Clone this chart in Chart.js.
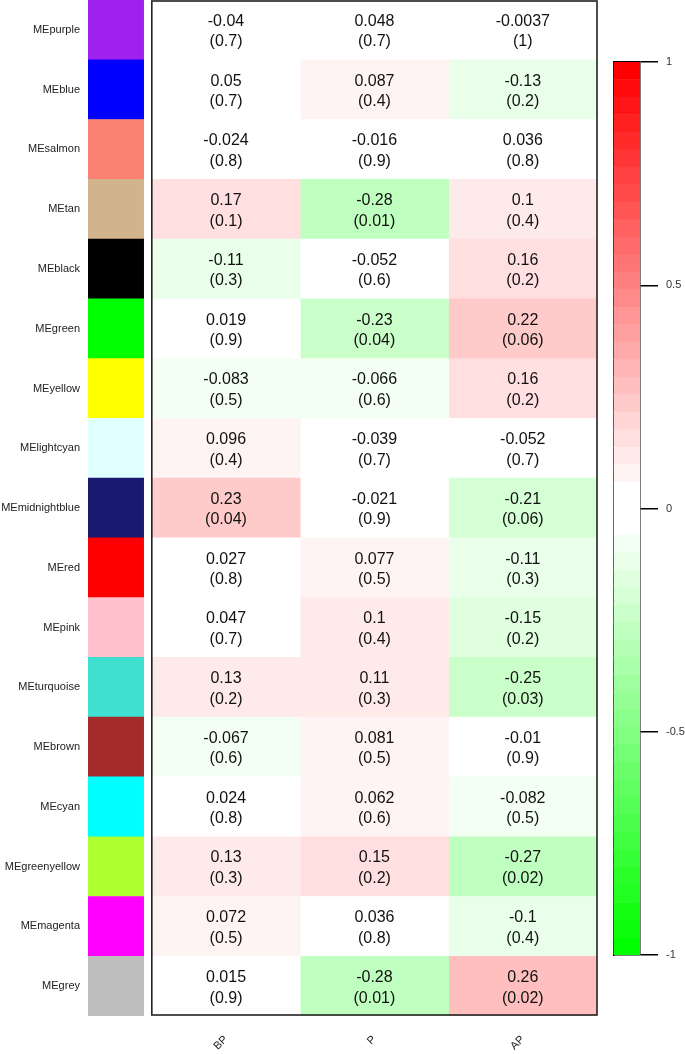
<!DOCTYPE html>
<html>
<head>
<meta charset="utf-8">
<script src="https://cdn.jsdelivr.net/npm/chart.js@4.4.1/dist/chart.umd.min.js"></script>
<style>
    body { margin: 0; background: #fff; }
    #wrap { position: relative; width: 685px; height: 1054px; }
    #heat { position: absolute; left: 0; top: 0; }
    #bar { position: absolute; left: 600px; top: 0; }
</style>
</head>
<body>
<div id="wrap">
    <canvas id="heat" width="685" height="1054"></canvas>
    <canvas id="bar" width="85" height="1054"></canvas>
</div>
<script>
const modules = ['MEpurple', 'MEblue', 'MEsalmon', 'MEtan', 'MEblack', 'MEgreen', 'MEyellow',
    'MElightcyan', 'MEmidnightblue', 'MEred', 'MEpink', 'MEturquoise', 'MEbrown', 'MEcyan',
    'MEgreenyellow', 'MEmagenta', 'MEgrey'];
const moduleColors = ['#A020F0', '#0000FF', '#FA8072', '#D2B48C', '#000000', '#00FF00', '#FFFF00',
    '#E0FFFF', '#191970', '#FF0000', '#FFC0CB', '#40E0D0', '#A52A2A', '#00FFFF',
    '#ADFF2F', '#FF00FF', '#BEBEBE'];
const traits = ['BP', 'P', 'AP'];

const corBP = [-0.04, 0.05, -0.024, 0.17, -0.11, 0.019, -0.083, 0.096, 0.23, 0.027, 0.047, 0.13, -0.067, 0.024, 0.13, 0.072, 0.015];
const pBP = [0.7, 0.7, 0.8, 0.1, 0.3, 0.9, 0.5, 0.4, 0.04, 0.8, 0.7, 0.2, 0.6, 0.8, 0.3, 0.5, 0.9];
const corP = [0.048, 0.087, -0.016, -0.28, -0.052, -0.23, -0.066, -0.039, -0.021, 0.077, 0.1, 0.11, 0.081, 0.062, 0.15, 0.036, -0.28];
const pP = [0.7, 0.4, 0.9, 0.01, 0.6, 0.04, 0.6, 0.7, 0.9, 0.5, 0.4, 0.3, 0.5, 0.6, 0.2, 0.8, 0.01];
const corAP = [-0.0037, -0.13, 0.036, 0.1, 0.16, 0.22, 0.16, -0.052, -0.21, -0.11, -0.15, -0.25, -0.01, -0.082, -0.27, -0.1, 0.26];
const pAP = [1, 0.2, 0.8, 0.4, 0.2, 0.06, 0.2, 0.7, 0.06, 0.3, 0.2, 0.03, 0.9, 0.5, 0.02, 0.4, 0.02];

const legendTicks = [1, 0.5, 0, -0.5, -1];

Chart.defaults.font.family = '"Liberation Sans", Arial, sans-serif';
Chart.defaults.animation = false;

// green - white - red palette, stepped, middle three steps white
const nSteps = 51;
function stepColor(k) {
    const j = k - 25;
    const t = Math.max(Math.abs(j) - 1, 0) / 24;
    const c = Math.round(255 * (1 - t));
    return j > 0 ? `rgb(255,${c},${c})` : `rgb(${c},255,${c})`;
}
function corColor(v) {
    let k = Math.floor((v + 1) / 2 * nSteps);
    k = Math.min(Math.max(k, 0), nSteps - 1);
    return stepColor(k);
}

const cors = [corBP, corP, corAP];
const pvals = [pBP, pP, pAP];

const cellOpts = { barPercentage: 1, categoryPercentage: 1, grouped: false, borderWidth: 0 };
const datasets = [{
    label: 'module',
    data: modules.map(() => [-0.43, -0.055]),
    backgroundColor: moduleColors,
    ...cellOpts
}];
traits.forEach((t, i) => {
    datasets.push({
        label: t,
        data: modules.map(() => [i, i + 1]),
        backgroundColor: cors[i].map(corColor),
        ...cellOpts
    });
});

const cellText = {
    id: 'cellText',
    afterDatasetsDraw(chart) {
        const ctx = chart.ctx;
        ctx.save();
        ctx.font = '16px "Liberation Sans", Arial, sans-serif';
        ctx.fillStyle = '#111';
        ctx.textAlign = 'center';
        ctx.textBaseline = 'middle';
        traits.forEach((t, i) => {
            chart.getDatasetMeta(i + 1).data.forEach((el, r) => {
                const cx = (el.x + el.base) / 2;
                ctx.fillText(String(cors[i][r]), cx, el.y - 8.5);
                ctx.fillText('(' + pvals[i][r] + ')', cx, el.y + 12);
            });
        });
        // frame round the heatmap
        const xs = chart.scales.x, a = chart.chartArea;
        const x0 = xs.getPixelForValue(0), x1 = xs.getPixelForValue(traits.length);
        ctx.strokeStyle = '#222';
        ctx.lineWidth = 1.6;
        ctx.strokeRect(x0, a.top + 1, x1 - x0, a.bottom - a.top - 2);
        ctx.restore();
    }
};

const noPad = s => { s.paddingTop = 0; s.paddingBottom = 0; s.paddingLeft = 0; s.paddingRight = 0; };

new Chart(document.getElementById('heat'), {
    type: 'bar',
    data: { labels: modules, datasets: datasets },
    plugins: [cellText],
    options: {
        responsive: false,
        indexAxis: 'y',
        layout: { padding: { left: 0, right: 88, top: 0, bottom: 0 } },
        plugins: { legend: { display: false }, tooltip: { enabled: false } },
        scales: {
            y: {
                type: 'category',
                grid: { display: false, drawTicks: false },
                border: { display: false },
                ticks: { padding: 8, color: '#222', font: { size: 11 } },
                afterFit: s => { s.width = 88; noPad(s); }
            },
            x: {
                type: 'linear',
                min: -0.43,
                max: traits.length,
                grid: { display: false, drawTicks: false },
                border: { display: false },
                afterBuildTicks: axis => {
                    axis.ticks = traits.map((t, i) => ({ value: i + 0.5 }));
                },
                ticks: {
                    padding: 17,
                    minRotation: 45,
                    maxRotation: 45,
                    color: '#222',
                    font: { size: 11 },
                    callback: v => traits[Math.floor(v)]
                },
                afterFit: s => { s.height = 38; noPad(s); }
            }
        }
    }
});

// colour key
const keySets = [];
for (let k = 0; k < nSteps; k++) {
    keySets.push({
        data: [[-1 + 2 * k / nSteps, -1 + 2 * (k + 1) / nSteps]],
        backgroundColor: stepColor(k),
        ...cellOpts
    });
}

new Chart(document.getElementById('bar'), {
    type: 'bar',
    data: { labels: [''], datasets: keySets },
    options: {
        responsive: false,
        layout: { padding: { left: 13.5, right: 0, top: 62, bottom: 99 } },
        plugins: { legend: { display: false }, tooltip: { enabled: false } },
        scales: {
            x: { display: false },
            y: {
                position: 'right',
                min: -1,
                max: 1,
                z: 1,
                afterBuildTicks: axis => {
                    axis.ticks = legendTicks.map(v => ({ value: v }));
                },
                grid: {
                    color: c => (c.tick && Math.abs(c.tick.value) === 1 ? '#000' : 'rgba(0,0,0,0)'),
                    tickColor: '#000',
                    tickLength: 18,
                    lineWidth: 1.5
                },
                border: { color: '#000', width: 1.5 },
                ticks: { padding: 8, color: '#333', font: { size: 11 }, callback: v => String(v) },
                afterFit: s => { s.width = 45; }
            },
            yl: {
                position: 'left',
                min: -1,
                max: 1,
                z: 1,
                grid: { display: false },
                ticks: { display: false },
                border: { color: '#000', width: 1.5 },
                afterFit: s => { s.width = 0; }
            }
        }
    }
});
</script>
</body>
</html>
